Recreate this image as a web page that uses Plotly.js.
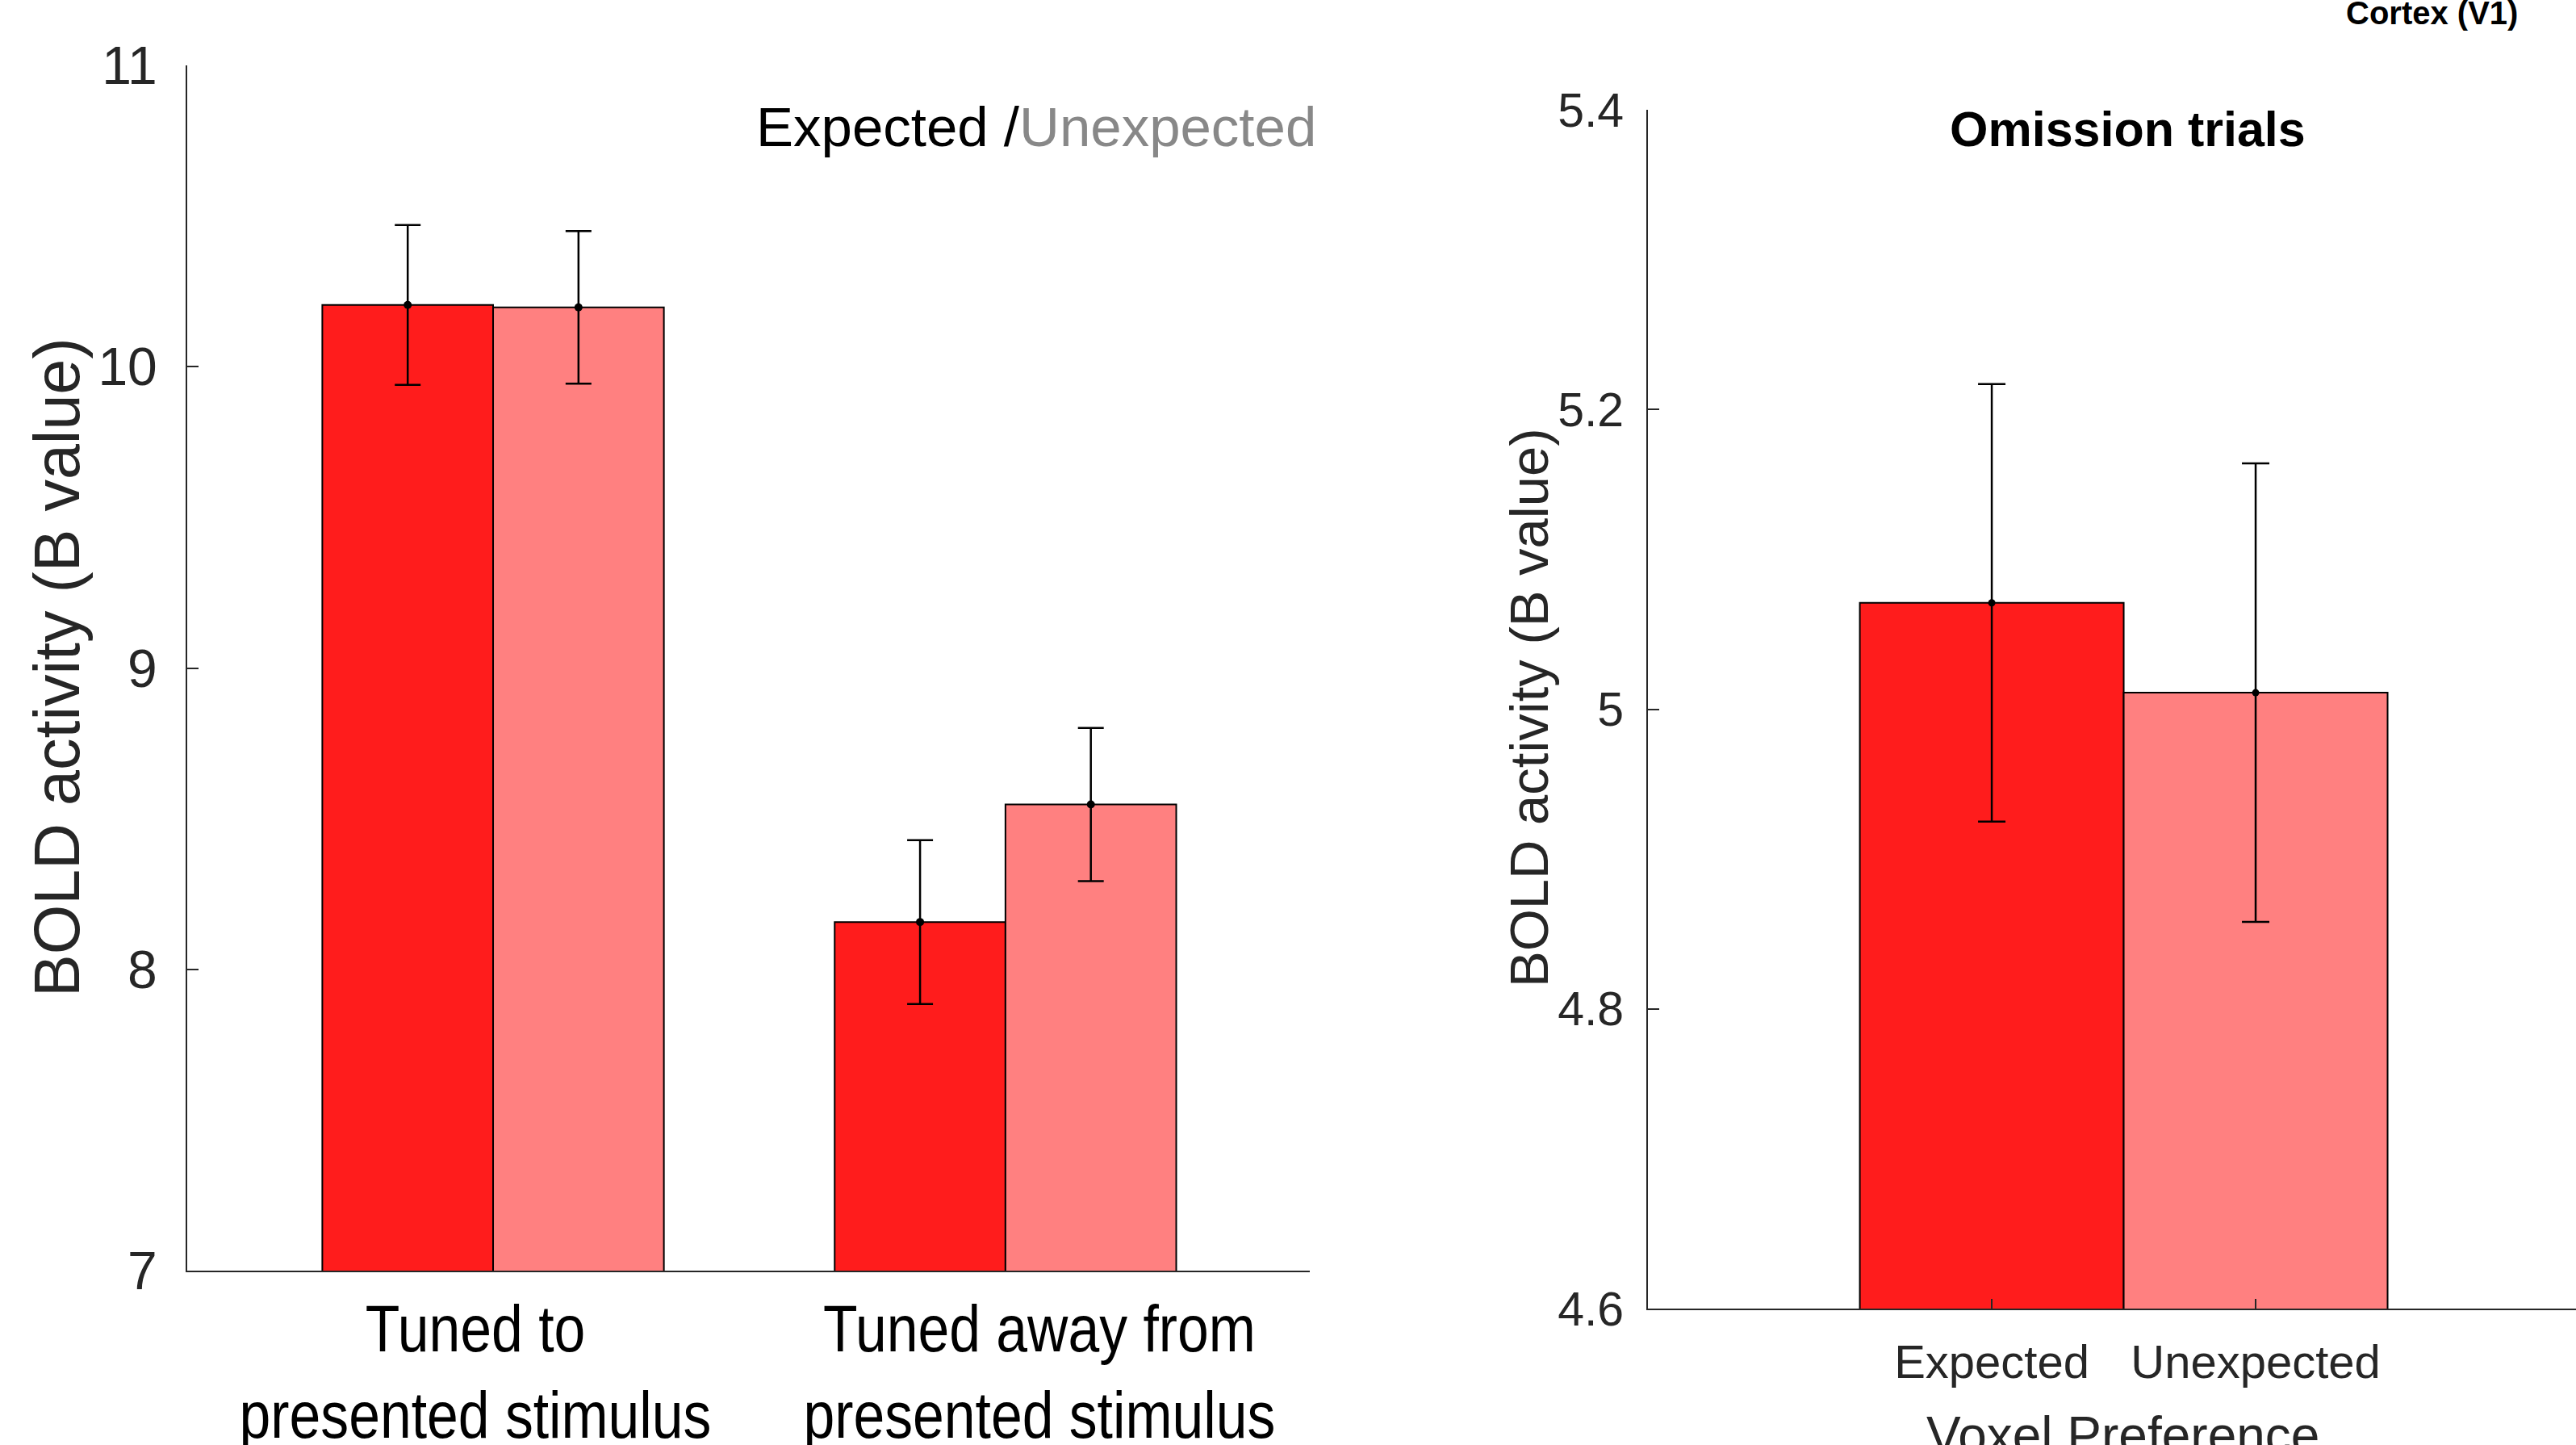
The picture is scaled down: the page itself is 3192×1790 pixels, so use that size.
<!DOCTYPE html>
<html>
<head>
<meta charset="utf-8">
<script src="https://cdn.plot.ly/plotly-3.0.1.min.js"></script>
<style>html,body{margin:0;padding:0;background:#fff;}#chart{width:3192px;height:1790px;}</style>
</head>
<body>
<div id="chart"></div>
<script>
// ---- Data ----
const leftCategories = ['Tuned to<br>presented stimulus', 'Tuned away from<br>presented stimulus'];
const leftPositions = [1, 2];
const leftExpected = [10.205, 8.157];
const leftExpectedErr = [0.265, 0.272];
const leftUnexpected = [10.197, 8.547];
const leftUnexpectedErr = [0.253, 0.254];

const rightCategories = ['Expected', 'Unexpected'];
const rightPositions = [1, 2];
const rightValues = [5.071, 5.011];
const rightErr = [0.146, 0.153];

const leftYTicks = [7, 8, 9, 10, 11];
const rightYTicks = [4.6, 4.8, 5, 5.2, 5.4];

// ---- Styles ----
const RED = '#FF1C1C';
const PINK = '#FF8080';
const AX = '#262626';
const FONT = 'Liberation Sans, Arial, sans-serif';
const BW = 1/3;
const CONDENSE = 0.85;
const LABEL_SHIFT = [-22, 42];   // small horizontal nudges of the category labels (px)

const errStyle = (arr) => ({type:'data', array: arr, visible:true, color:'#000', thickness:2.5, width:16});

const traces = [
  {type:'bar', x:leftPositions, y:leftExpected, width:BW, offset:-BW,
   marker:{color:RED, line:{color:'#000', width:2}}, error_y:errStyle(leftExpectedErr),
   xaxis:'x', yaxis:'y', showlegend:false, hoverinfo:'skip'},
  {type:'bar', x:leftPositions, y:leftUnexpected, width:BW, offset:0,
   marker:{color:PINK, line:{color:'#000', width:2}}, error_y:errStyle(leftUnexpectedErr),
   xaxis:'x', yaxis:'y', showlegend:false, hoverinfo:'skip'},
  {type:'scatter', mode:'markers', x:leftPositions.map(p=>p-BW/2), y:leftExpected,
   marker:{color:'#000', size:10}, xaxis:'x', yaxis:'y', showlegend:false, hoverinfo:'skip', cliponaxis:false},
  {type:'scatter', mode:'markers', x:leftPositions.map(p=>p+BW/2), y:leftUnexpected,
   marker:{color:'#000', size:10}, xaxis:'x', yaxis:'y', showlegend:false, hoverinfo:'skip', cliponaxis:false},
  {type:'bar', x:rightPositions, y:rightValues, width:1,
   marker:{color:[RED, PINK], line:{color:'#000', width:2}},
   error_y:{type:'data', array:rightErr, visible:true, color:'#000', thickness:2.5, width:17},
   xaxis:'x2', yaxis:'y2', showlegend:false, hoverinfo:'skip'},
  {type:'scatter', mode:'markers', x:rightPositions, y:rightValues,
   marker:{color:'#000', size:9}, xaxis:'x2', yaxis:'y2', showlegend:false, hoverinfo:'skip', cliponaxis:false}
];

const layout = {
  width:3192, height:1790,
  margin:{l:0, r:0, t:0, b:0},
  paper_bgcolor:'#fff', plot_bgcolor:'rgba(0,0,0,0)',
  barmode:'overlay',
  font:{family:FONT, color:AX},
  xaxis:{domain:[232/3192, 1623/3192], range:[0.403, 2.594], anchor:'y',
    tickmode:'array', tickvals:leftPositions, ticktext:leftCategories, tickangle:0,
    ticks:'', showline:true, linecolor:AX, linewidth:2, showgrid:false, zeroline:false,
    tickfont:{family:FONT, size:82, color:'#000'}, ticklabelstandoff:0},
  yaxis:{domain:[1-1574/1790, 1-81/1790], range:[7, 11], anchor:'x',
    tickmode:'array', tickvals:leftYTicks, ticktext:leftYTicks.map(String),
    ticks:'inside', ticklen:14, tickwidth:2, tickcolor:AX,
    showline:true, linecolor:AX, linewidth:2, showgrid:false, zeroline:false,
    tickfont:{family:FONT, size:66, color:AX}, ticklabelstandoff:22},
  xaxis2:{domain:[2042/3192, 1], range:[-0.303, 3.214], anchor:'y2',
    tickmode:'array', tickvals:rightPositions, ticktext:rightCategories, tickangle:0,
    ticks:'inside', ticklen:12, tickwidth:2, tickcolor:AX,
    showline:true, linecolor:AX, linewidth:2, showgrid:false, zeroline:false,
    tickfont:{family:FONT, size:58, color:AX}, ticklabelstandoff:14},
  yaxis2:{domain:[1-1621/1790, 1-136/1790], range:[4.6, 5.4], anchor:'x2',
    tickmode:'array', tickvals:rightYTicks, ticktext:rightYTicks.map(String),
    ticks:'inside', ticklen:14, tickwidth:2, tickcolor:AX,
    showline:true, linecolor:AX, linewidth:2, showgrid:false, zeroline:false,
    tickfont:{family:FONT, size:59, color:AX}, ticklabelstandoff:16},
  annotations:[
    {xref:'paper', yref:'paper', x:71/3192, y:1-827/1790, xanchor:'center', yanchor:'middle',
     textangle:-90, showarrow:false, text:'BOLD activity (B value)', font:{family:FONT, size:79, color:AX}},
    {xref:'paper', yref:'paper', x:1895/3192, y:1-877/1790, xanchor:'center', yanchor:'middle',
     textangle:-90, showarrow:false, text:'BOLD activity (B value)', font:{family:FONT, size:67, color:AX}},
    {xref:'paper', yref:'paper', x:1633/3192, y:1-157/1790, xanchor:'right', yanchor:'middle',
     showarrow:false, text:'Expected /<span style="color:#888888">Unexpected</span>',
     font:{family:FONT, size:69, color:'#000'}},
    {xref:'paper', yref:'paper', x:2636/3192, y:1-160/1790, xanchor:'center', yanchor:'middle',
     showarrow:false, text:'<b>Omission trials</b>', font:{family:FONT, size:61, color:'#000'}},
    {xref:'paper', yref:'paper', x:2630/3192, y:1-1741/1790, xanchor:'center', yanchor:'top',
     showarrow:false, borderpad:0, text:'Voxel Preference', font:{family:FONT, size:64, color:AX}},
    {xref:'paper', yref:'paper', x:3013/3192, y:1-39/1790, xanchor:'center', yanchor:'bottom',
     showarrow:false, borderpad:0, text:'<b>Cortex (V1)</b>', font:{family:FONT, size:40, color:'#000'}}
  ]
};

Plotly.newPlot('chart', traces, layout, {staticPlot:true, displayModeBar:false}).then(function(gd){
  // condense the left category labels horizontally (the reference uses a narrow face)
  gd.querySelectorAll('.subplot.xy .xaxislayer-above .xtick text').forEach(function(t, i){
    const x = parseFloat(t.getAttribute('x') || '0');
    const dx = LABEL_SHIFT[i] || 0;
    const tr = t.getAttribute('transform') || '';
    t.setAttribute('transform', tr + ' translate(' + (x + dx) + ',0) scale(' + CONDENSE + ',1) translate(' + (-x) + ',0)');
  });
});
</script>
</body>
</html>
